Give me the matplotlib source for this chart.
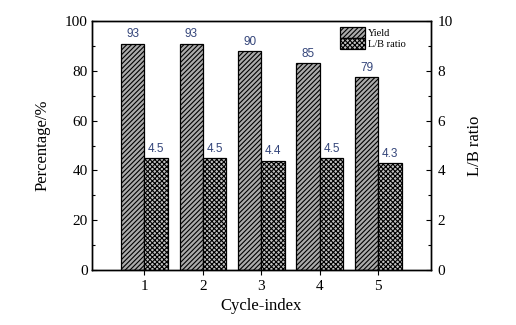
import matplotlib
matplotlib.use("Agg")
import matplotlib.pyplot as plt
import numpy as np
from matplotlib.ticker import MultipleLocator

plt.rcParams["font.family"] = ["Liberation Serif", "DejaVu Serif"]
plt.rcParams["hatch.linewidth"] = 0.8

# ---- data ----
cycles = [1, 2, 3, 4, 5]
yield_bar = [91.0, 91.0, 88.0, 83.0, 77.4]      # drawn bar heights (%)
yield_text = ["93", "93", "90", "85", "79"]     # printed labels
lb_ratio = [4.5, 4.5, 4.4, 4.5, 4.3]
lb_text = ["4.5", "4.5", "4.4", "4.5", "4.3"]

label_color = "#34457a"
face_yield = "#ababab"
face_lb = "#c2c2c2"
w = 0.4

fig = plt.figure(figsize=(5.16, 3.25), dpi=100)
ax = fig.add_axes([0.178, 0.169, 0.657, 0.766])
ax2 = ax.twinx()

x = np.array(cycles, dtype=float)
b1 = ax.bar(x - w / 2, yield_bar, width=w, facecolor=face_yield, edgecolor="black",
            hatch="///////", linewidth=0.9, label="Yield")
b2 = ax2.bar(x + w / 2, lb_ratio, width=w, facecolor=face_lb, edgecolor="black",
             hatch="xxxxxxx", linewidth=0.9, label="L/B ratio")

for xi, h, t in zip(x, yield_bar, yield_text):
    ax.text(xi - w / 2, h + 1.3, t, ha="center", va="bottom",
            fontsize=8.5, color=label_color, family="Liberation Sans")
for xi, h, t in zip(x, lb_ratio, lb_text):
    ax2.text(xi + w / 2, h + 0.13, t, ha="center", va="bottom",
             fontsize=8.5, color=label_color, family="Liberation Sans")

ax.set_xlim(0.1, 5.9)
ax.set_ylim(0, 100)
ax2.set_ylim(0, 10)
ax.set_xticks(cycles)

ax.yaxis.set_major_locator(MultipleLocator(20))
ax.yaxis.set_minor_locator(MultipleLocator(10))
ax2.yaxis.set_major_locator(MultipleLocator(2))
ax2.yaxis.set_minor_locator(MultipleLocator(1))

ax.tick_params(axis="y", direction="in", length=3.5, width=0.8, labelsize=11, pad=3)
ax.tick_params(axis="y", which="minor", direction="in", length=2, width=0.8)
ax.tick_params(axis="x", direction="out", length=3.5, width=0.8, labelsize=11, pad=4)
ax2.tick_params(axis="y", direction="in", length=3.5, width=0.8, labelsize=11, pad=5)
ax2.tick_params(axis="y", which="minor", direction="in", length=2, width=0.8)

for a in (ax, ax2):
    for s in a.spines.values():
        s.set_linewidth(1.0)

ax.set_xlabel("Cycle-index", fontsize=12, labelpad=3)
ax.set_ylabel("Percentage/%", fontsize=12, labelpad=10)
ax2.set_ylabel("L/B ratio", fontsize=12, labelpad=10)

ax2.legend(handles=[b1, b2], loc="upper left", bbox_to_anchor=(0.7316, 0.976),
           frameon=False, fontsize=7.5, handlelength=2.4, handleheight=1.2,
           labelspacing=0.05, borderpad=0, borderaxespad=0, handletextpad=0.3)

fig.savefig("out.png", dpi=100)
